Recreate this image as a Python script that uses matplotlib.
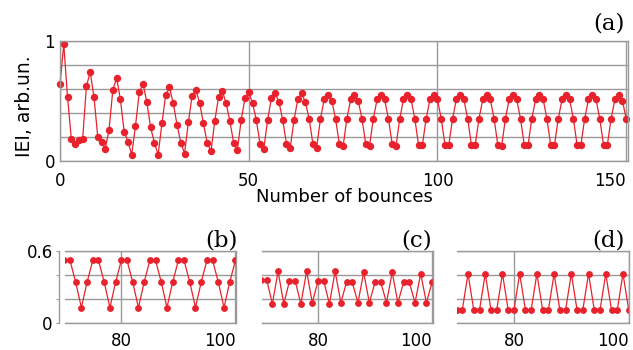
import numpy as np
import matplotlib
matplotlib.use('Agg')
import matplotlib.pyplot as plt

# Data
bounces_a = np.arange(151)
iei_a = [
    0.64, 0.97, 0.53, 0.18, 0.14, 0.17, 0.18,
    0.62, 0.74, 0.53, 0.20, 0.16, 0.10, 0.26,
    0.59, 0.69, 0.51, 0.24, 0.16, 0.05, 0.29,
    0.57, 0.64, 0.49, 0.28, 0.15, 0.05, 0.31,
    0.55, 0.61, 0.48, 0.30, 0.15, 0.06, 0.32,
    0.54, 0.59, 0.48, 0.31, 0.15, 0.08, 0.33,
    0.53, 0.58, 0.48, 0.33, 0.15, 0.09, 0.34,
    0.52, 0.57, 0.48, 0.34, 0.14, 0.10, 0.34,
    0.52, 0.56, 0.49, 0.34, 0.14, 0.11, 0.34,
    0.51, 0.56, 0.49, 0.35, 0.14, 0.11, 0.35,
    0.51, 0.55, 0.50, 0.35, 0.14, 0.12, 0.35,
    0.51, 0.55, 0.50, 0.35, 0.14, 0.12, 0.35,
    0.51, 0.55, 0.51, 0.35, 0.14, 0.12, 0.35,
    0.51, 0.55, 0.51, 0.35, 0.13, 0.13, 0.35,
    0.51, 0.55, 0.51, 0.35, 0.13, 0.13, 0.35,
    0.51, 0.55, 0.51, 0.35, 0.13, 0.13, 0.35,
    0.51, 0.55, 0.51, 0.35, 0.13, 0.12, 0.35,
    0.51, 0.55, 0.51, 0.35, 0.13, 0.13, 0.35,
    0.51, 0.55, 0.51, 0.35, 0.13, 0.13, 0.35,
    0.51, 0.55, 0.51, 0.35, 0.13, 0.13, 0.35,
    0.51, 0.55, 0.51, 0.35, 0.13, 0.13, 0.35,
    0.51, 0.55, 0.50, 0.35,
]

bounces_zoom = np.arange(70, 101)
iei_b = [
    0.52, 0.52, 0.34, 0.13, 0.34,
    0.52, 0.52, 0.34, 0.13, 0.34,
    0.52, 0.52, 0.34, 0.13, 0.34,
    0.52, 0.52, 0.34, 0.13, 0.34,
    0.52, 0.52, 0.34, 0.13, 0.34,
    0.52, 0.52, 0.34, 0.13, 0.34,
    0.52,
]
iei_c = [
    0.36, 0.36, 0.16, 0.43, 0.16,
    0.35, 0.35, 0.16, 0.43, 0.17,
    0.35, 0.35, 0.16, 0.43, 0.17,
    0.34, 0.34, 0.17, 0.42, 0.17,
    0.34, 0.34, 0.17, 0.42, 0.17,
    0.34, 0.34, 0.17, 0.41, 0.17,
    0.34,
]
iei_d = [
    0.11, 0.11, 0.41, 0.11, 0.11, 0.41, 0.11, 0.11, 0.41, 0.11,
    0.11, 0.41, 0.11, 0.11, 0.41, 0.11, 0.11, 0.41, 0.11, 0.11,
    0.41, 0.11, 0.11, 0.41, 0.11, 0.11, 0.41, 0.11, 0.11, 0.41,
    0.11,
]

W, H = 633, 350
red = '#e8222c'
grey = '#9a9a9a'

fig = plt.figure(figsize=(W / 100, H / 100), dpi=100)


def px_axes(left, top, right, bottom):
    return fig.add_axes([left / W, 1 - bottom / H, (right - left) / W, (bottom - top) / H])


def style(ax):
    ax.grid(True, color=grey, linewidth=1.0)
    ax.set_axisbelow(True)
    for s in ax.spines.values():
        s.set_color(grey)
        s.set_linewidth(1.0)
    ax.tick_params(length=0, labelsize=12, colors='black')


# (a) full run
ax = px_axes(60, 40.7, 627.7, 160.7)
ax.plot(bounces_a, iei_a, '-o', color=red, ms=4.3, lw=0.9, clip_on=False)
ax.set_xlim(0, 150.4)
ax.set_ylim(0, 1)
ax.set_xticks([0, 50, 100, 150])
ax.set_yticks([0, 0.2, 0.4, 0.6, 0.8, 1])
ax.set_yticklabels(['0', '', '', '', '', '1'])
style(ax)
ax.tick_params(axis='x', pad=8)
ax.tick_params(axis='y', pad=3.5)
ax.get_xticklabels()[-1].set_ha('right')
ax.get_xticklabels()[-1].set_x(150.4)

fig.text(344 / W, 1 - 201.7 / H, 'Number of bounces', ha='center', va='baseline', fontsize=13)
fig.text(25 / W, 1 - 106 / H, 'IEI, arb.un.', rotation=90, ha='center', va='center', fontsize=13.5)

# (b), (c), (d) zoomed parts
boxes = [(65, 236), (261.7, 432.7), (457.3, 629.3)]
series = [iei_b, iei_c, iei_d]
labels = ['(b)', '(c)', '(d)']
label_x = [237.7, 431.7, 625]

for (l, r), vals, lab, lx in zip(boxes, series, labels, label_x):
    ax = px_axes(l, 250.7, r, 323.3)
    ax.plot(bounces_zoom, vals, '-o', color=red, ms=3.9, lw=0.9)
    ax.set_xlim(70.13, 100.1)
    ax.set_ylim(0, 0.6)
    ax.set_xticks([80, 100])
    ax.set_yticks([0, 0.2, 0.4, 0.6])
    style(ax)
    ax.tick_params(axis='x', pad=6)
    ax.get_xticklabels()[-1].set_ha('right')
    ax.get_xticklabels()[-1].set_x(100.6)
    if lab == '(b)':
        ax.set_yticklabels(['0', '', '', '0.6'])
        ax.spines['left'].set_position(('outward', 4.3))
        ax.tick_params(axis='y', length=2, color=grey, pad=2.5)
    else:
        ax.set_yticklabels([])
        ax.spines['left'].set_visible(False)
    fig.text(lx / W, 1 - 240.5 / H, lab, ha='right', va='center', fontsize=16.5, family='DejaVu Serif')

fig.text(625 / W, 1 - 23.3 / H, '(a)', ha='right', va='center', fontsize=16.5, family='DejaVu Serif')

plt.savefig('out.png', dpi=100)
